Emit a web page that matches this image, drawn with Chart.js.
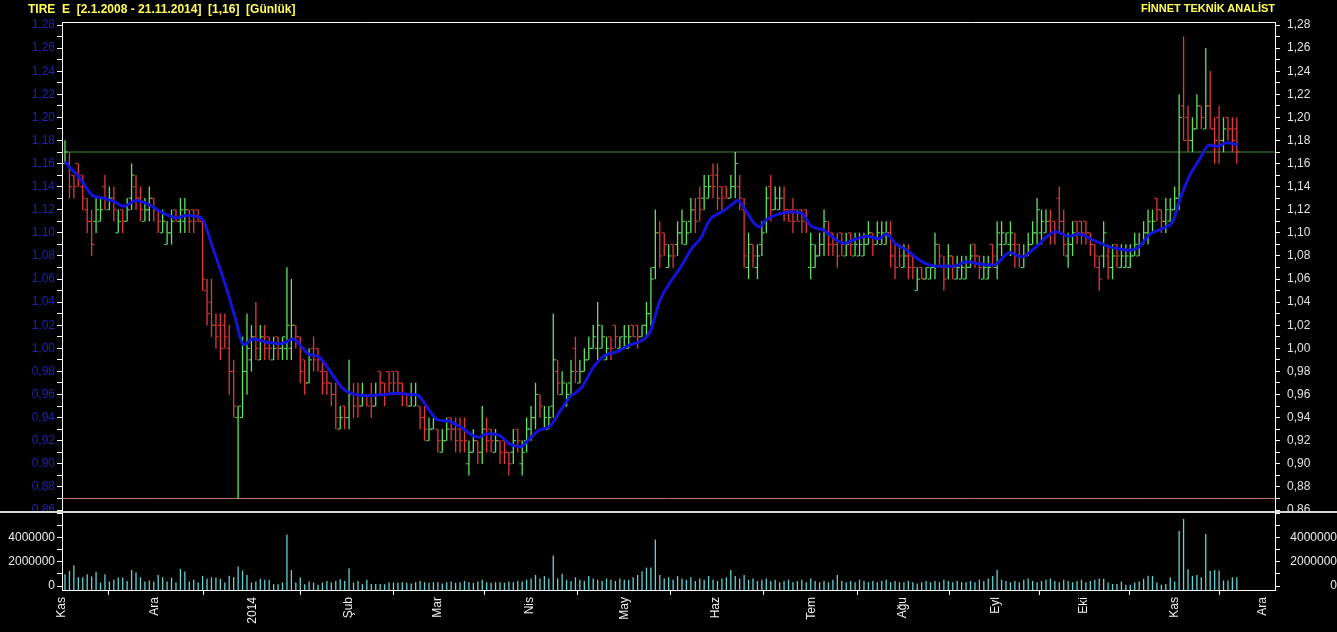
<!DOCTYPE html>
<html>
<head>
<meta charset="utf-8">
<script src="https://cdn.jsdelivr.net/npm/chart.js"></script>
<style>
  html, body { margin: 0; padding: 0; background: #000; overflow: hidden; }
  #wrap { position: relative; width: 1337px; height: 632px; background: #000; }
  .title { position: absolute; top: 2px; font-family: "Liberation Sans", Arial, sans-serif; font-weight: bold; color: #ffff55; white-space: pre; }
  .box { position: absolute; left: 0; width: 1337px; overflow: hidden; }
  #priceBox { top: 0; height: 512px; }
  #volBox { top: 513px; height: 119px; }
  #priceChart { position: absolute; left: 0; top: 0; }
  #volChart { position: absolute; left: 0; top: -20px; }
  #sep { position: absolute; left: 0; top: 511px; width: 1337px; height: 2px; background: #d8d8d8; }
</style>
</head>
<body>
<div id="wrap">
  <div class="box" id="priceBox"><canvas id="priceChart" width="1337" height="540"></canvas></div>
  <div class="box" id="volBox"><canvas id="volChart" width="1337" height="139"></canvas></div>
  <div id="sep"></div>
  <div class="title" style="left:28px; font-size:12px;">TIRE  E  [2.1.2008 - 21.11.2014]  [1,16]  [Günlük]</div>
  <div class="title" style="right:62px; font-size:11px;">FİNNET TEKNİK ANALİST</div>
</div>
<script>
// daily bars, Kas 2013 - 21 Kas 2014 (index = trading day)
const opens = [1.16,1.16,1.15,1.16,1.14,1.12,1.11,1.11,1.11,1.14,1.12,1.13,1.10,1.12,1.11,1.13,1.14,1.13,1.11,1.12,
  1.13,1.12,1.10,1.09,1.10,1.12,1.11,1.11,1.12,1.12,1.12,1.11,1.05,1.04,1.02,1.02,1.02,1.00,0.98,0.94,
  0.94,0.98,0.99,1.01,0.99,1.01,1.01,0.99,1.01,1.00,1.00,1.00,1.02,1.01,0.99,0.97,1.00,1.00,0.98,0.98,
  0.97,0.96,0.93,0.95,0.94,0.96,0.96,0.95,0.96,0.96,0.95,0.98,0.97,0.98,0.98,0.98,0.97,0.96,0.95,0.95,
  0.95,0.94,0.92,0.93,0.93,0.91,0.92,0.94,0.93,0.93,0.93,0.90,0.91,0.92,0.91,0.93,0.93,0.91,0.92,0.92,
  0.91,0.91,0.93,0.90,0.92,0.93,0.94,0.96,0.93,0.93,0.95,0.98,0.96,0.95,0.97,1.00,0.97,0.98,0.99,1.00,
  1.00,1.00,0.99,1.01,1.02,1.00,1.00,1.00,1.02,1.02,1.01,1.02,1.03,1.07,1.10,1.10,1.07,1.09,1.09,1.10,
  1.09,1.11,1.12,1.13,1.13,1.13,1.15,1.15,1.14,1.14,1.13,1.14,1.14,1.12,1.07,1.09,1.07,1.09,1.11,1.14,
  1.12,1.12,1.13,1.12,1.12,1.12,1.12,1.12,1.07,1.07,1.08,1.09,1.10,1.10,1.09,1.10,1.08,1.10,1.08,1.08,
  1.08,1.09,1.10,1.09,1.09,1.09,1.10,1.08,1.09,1.07,1.08,1.08,1.05,1.07,1.06,1.06,1.07,1.09,1.07,1.07,
  1.08,1.06,1.06,1.06,1.07,1.09,1.08,1.06,1.06,1.09,1.07,1.09,1.09,1.09,1.09,1.09,1.07,1.08,1.09,1.10,
  1.10,1.10,1.11,1.11,1.13,1.11,1.08,1.09,1.11,1.11,1.11,1.10,1.09,1.07,1.08,1.08,1.07,1.09,1.07,1.07,
  1.07,1.08,1.08,1.09,1.10,1.10,1.13,1.12,1.11,1.11,1.12,1.13,1.21,1.20,1.18,1.19,1.21,1.19,1.21,1.19,
  1.20,1.18,1.20,1.19,1.19];
const highs = [1.18,1.17,1.15,1.16,1.15,1.13,1.12,1.13,1.13,1.15,1.14,1.14,1.12,1.12,1.13,1.16,1.15,1.14,1.13,1.14,
  1.13,1.12,1.12,1.11,1.12,1.12,1.13,1.13,1.12,1.12,1.12,1.11,1.06,1.06,1.03,1.03,1.03,1.02,0.99,0.95,
  1.01,1.03,1.02,1.04,1.02,1.02,1.01,1.01,1.01,1.01,1.07,1.06,1.02,1.01,0.99,1.00,1.01,1.00,0.99,0.98,
  0.97,0.97,0.95,0.95,0.99,0.97,0.97,0.97,0.96,0.97,0.97,0.98,0.97,0.98,0.98,0.98,0.97,0.96,0.97,0.97,
  0.95,0.95,0.94,0.94,0.93,0.93,0.94,0.94,0.94,0.94,0.94,0.92,0.93,0.92,0.95,0.94,0.93,0.93,0.92,0.92,
  0.91,0.93,0.93,0.92,0.94,0.95,0.97,0.96,0.95,0.95,1.03,0.99,0.98,0.97,0.99,1.01,0.99,1.00,1.01,1.02,
  1.04,1.02,1.01,1.01,1.02,1.01,1.02,1.02,1.02,1.02,1.02,1.04,1.07,1.12,1.11,1.10,1.09,1.09,1.11,1.12,
  1.11,1.13,1.13,1.14,1.15,1.15,1.16,1.16,1.14,1.14,1.15,1.17,1.15,1.13,1.10,1.09,1.09,1.11,1.14,1.15,
  1.14,1.14,1.14,1.12,1.13,1.12,1.12,1.12,1.10,1.09,1.10,1.12,1.11,1.10,1.10,1.10,1.10,1.10,1.10,1.10,
  1.10,1.11,1.10,1.11,1.11,1.11,1.11,1.09,1.09,1.09,1.09,1.08,1.07,1.07,1.07,1.07,1.10,1.09,1.08,1.09,
  1.08,1.08,1.08,1.08,1.09,1.09,1.08,1.08,1.08,1.09,1.11,1.11,1.10,1.11,1.10,1.09,1.09,1.10,1.11,1.13,
  1.12,1.12,1.12,1.11,1.14,1.12,1.10,1.11,1.11,1.11,1.11,1.10,1.09,1.08,1.11,1.09,1.09,1.09,1.09,1.09,
  1.09,1.10,1.10,1.11,1.12,1.12,1.13,1.12,1.13,1.13,1.14,1.22,1.27,1.21,1.20,1.22,1.21,1.26,1.24,1.20,
  1.21,1.20,1.20,1.20,1.20];
const lows = [1.16,1.13,1.13,1.14,1.12,1.10,1.08,1.10,1.11,1.12,1.12,1.11,1.10,1.10,1.11,1.12,1.12,1.11,1.11,1.11,
  1.11,1.10,1.10,1.09,1.09,1.11,1.10,1.10,1.10,1.10,1.11,1.05,1.02,1.01,1.00,0.99,1.00,0.96,0.94,0.87,
  0.94,0.96,0.98,0.99,0.99,0.99,0.99,0.99,0.99,0.99,0.99,0.99,1.00,0.97,0.96,0.97,0.98,0.98,0.96,0.96,
  0.95,0.93,0.93,0.93,0.93,0.94,0.94,0.95,0.95,0.94,0.95,0.96,0.95,0.96,0.96,0.96,0.95,0.95,0.95,0.95,
  0.93,0.92,0.92,0.93,0.91,0.91,0.92,0.92,0.91,0.91,0.91,0.89,0.91,0.90,0.90,0.91,0.91,0.91,0.90,0.90,
  0.89,0.90,0.91,0.89,0.91,0.92,0.93,0.94,0.93,0.93,0.94,0.96,0.96,0.95,0.96,0.97,0.97,0.98,0.99,1.00,
  0.99,1.00,0.99,0.99,1.00,1.00,1.00,1.00,1.01,1.00,1.01,1.01,1.02,1.06,1.07,1.08,1.07,1.07,1.08,1.09,
  1.09,1.10,1.10,1.11,1.12,1.13,1.13,1.12,1.12,1.13,1.13,1.13,1.12,1.07,1.06,1.07,1.06,1.08,1.10,1.11,
  1.12,1.12,1.11,1.11,1.10,1.11,1.10,1.10,1.06,1.07,1.08,1.08,1.08,1.08,1.07,1.08,1.08,1.08,1.08,1.08,
  1.08,1.09,1.08,1.09,1.09,1.09,1.07,1.06,1.07,1.07,1.06,1.06,1.05,1.06,1.06,1.06,1.06,1.07,1.05,1.06,
  1.06,1.06,1.06,1.06,1.07,1.07,1.06,1.06,1.06,1.07,1.06,1.08,1.09,1.08,1.07,1.07,1.07,1.08,1.09,1.09,
  1.09,1.10,1.09,1.09,1.10,1.08,1.07,1.08,1.09,1.09,1.09,1.08,1.07,1.05,1.07,1.06,1.06,1.07,1.07,1.07,
  1.07,1.08,1.08,1.09,1.09,1.10,1.11,1.10,1.10,1.11,1.12,1.12,1.18,1.17,1.17,1.19,1.19,1.19,1.19,1.16,
  1.16,1.17,1.18,1.17,1.16];
const closes = [1.17,1.14,1.14,1.15,1.13,1.11,1.09,1.12,1.12,1.13,1.13,1.12,1.11,1.11,1.12,1.15,1.13,1.12,1.12,1.13,
  1.12,1.11,1.11,1.10,1.11,1.11,1.12,1.12,1.11,1.11,1.11,1.06,1.03,1.02,1.01,1.00,1.01,0.98,0.95,0.95,
  0.98,1.00,1.01,1.00,1.01,1.00,1.00,1.00,1.00,1.01,1.02,1.02,1.01,0.98,0.97,0.99,0.99,0.99,0.97,0.97,
  0.96,0.94,0.94,0.94,0.96,0.95,0.95,0.96,0.95,0.95,0.96,0.97,0.96,0.97,0.97,0.97,0.96,0.95,0.96,0.96,
  0.94,0.93,0.93,0.94,0.92,0.92,0.93,0.93,0.92,0.92,0.92,0.91,0.92,0.91,0.93,0.92,0.92,0.92,0.91,0.91,
  0.90,0.92,0.92,0.91,0.93,0.94,0.96,0.95,0.94,0.94,0.99,0.97,0.97,0.96,0.98,0.98,0.98,0.99,1.00,1.01,
  1.02,1.01,1.00,1.00,1.01,1.01,1.01,1.01,1.01,1.01,1.02,1.03,1.06,1.10,1.08,1.09,1.08,1.08,1.10,1.11,
  1.10,1.12,1.11,1.12,1.14,1.14,1.14,1.13,1.13,1.13,1.14,1.16,1.13,1.08,1.09,1.08,1.08,1.10,1.13,1.12,
  1.13,1.13,1.12,1.11,1.11,1.11,1.11,1.11,1.09,1.08,1.09,1.11,1.09,1.09,1.08,1.09,1.09,1.09,1.09,1.09,
  1.09,1.10,1.09,1.10,1.10,1.10,1.08,1.07,1.08,1.08,1.07,1.07,1.06,1.06,1.07,1.07,1.09,1.08,1.06,1.08,
  1.07,1.07,1.07,1.07,1.08,1.08,1.07,1.07,1.07,1.08,1.10,1.10,1.10,1.10,1.08,1.08,1.08,1.09,1.10,1.12,
  1.11,1.11,1.10,1.10,1.11,1.09,1.09,1.10,1.10,1.10,1.10,1.09,1.08,1.06,1.10,1.07,1.08,1.08,1.08,1.08,
  1.08,1.09,1.09,1.10,1.11,1.11,1.12,1.11,1.12,1.12,1.13,1.20,1.18,1.18,1.19,1.21,1.20,1.21,1.19,1.18,
  1.18,1.19,1.19,1.18,1.17];
// volume in millions of lots
const volumeMn = [0.96,1.23,1.7,0.7,0.7,0.96,0.77,1.15,0.27,0.96,0.36,0.5,0.68,0.68,0.4,1.3,1.1,0.7,0.36,0.44,
  0.36,0.9,0.7,0.36,0.68,0.27,1.4,1.18,0.36,0.5,0.27,0.82,0.58,0.7,0.68,0.58,0.27,0.82,0.7,1.6,
  1.26,0.9,0.27,0.36,0.58,0.5,0.5,0.14,0.14,0.27,4.2,1.3,0.27,0.68,0.14,0.36,0.27,0.1,0.27,0.4,
  0.27,0.4,0.55,0.4,1.45,0.27,0.4,0.14,0.5,0.16,0.16,0.16,0.14,0.27,0.27,0.27,
  0.3,0.25,0.2,0.3,0.4,0.3,0.25,0.3,0.3,0.2,0.3,0.35,0.25,0.3,0.4,0.3,0.25,0.35,0.5,0.3,
  0.25,0.3,0.3,0.25,0.35,0.3,0.4,0.35,0.5,0.6,0.9,0.6,0.8,0.6,
  2.5,
  0.6,1.0,0.5,0.4,0.7,0.5,0.4,0.8,0.6,0.5,0.4,0.6,0.5,0.4,0.6,0.5,0.5,0.7,0.9,1.2,1.5,1.5,3.8,
  0.9,0.6,0.7,0.5,0.8,0.6,0.5,0.7,0.4,0.6,0.5,0.8,0.5,0.4,0.6,0.7,
  1.3,
  0.8,0.6,0.9,0.5,0.6,0.4,0.5,0.6,0.4,0.5,0.3,0.4,0.5,0.3,0.4,0.5,0.3,0.6,0.4,0.3,
  0.4,0.3,0.5,0.9,0.4,0.3,0.4,0.3,0.5,0.4,0.3,0.4,0.3,0.4,0.5,0.3,0.4,0.3,0.3,0.4,
  0.3,0.2,0.3,0.4,0.3,0.4,0.3,0.5,0.4,0.3,0.4,0.3,0.3,0.4,0.3,0.5,0.4,0.6,0.8,
  1.3,
  0.5,0.4,0.3,0.4,0.3,0.5,0.6,0.4,0.3,0.4,0.5,0.6,0.4,0.3,0.5,0.4,0.3,0.4,0.5,0.3,0.4,0.5,0.6,
  0.58,0.27,0.16,0.16,0.36,0.1,0.1,0.27,0.36,0.58,0.82,0.82,0.27,0.1,0.16,0.68,0.36,
  4.5,5.5,1.37,0.82,0.9,0.71,4.27,1.23,1.3,1.26,0.44,0.44,0.71,0.71];

// moving average line (bar position, value)
const maX = [0,1,3,4.5,6,8.7,11.1,13.1,16.1,19.1,22.2,25.2,27.2,30.7,33.2,36.3,38.3,40.3,42.3,45.8,
  48.7,51.4,53.4,54.9,57.1,60.1,62.4,64.5,68.5,72.1,74.5,78.1,79.6,81.6,84.0,86.2,88.6,93.2,95.0,97.7,
  100.2,102.7,104.7,106.8,109.4,111.6,113.8,116.4,119.1,121.7,124.3,127.3,129.5,131.8,134.0,136.3,138.5,141.1,143.3,145.2,
  147.9,150.1,151.6,153.1,155.3,156.4,157.9,160.5,163.6,165.9,168.1,171.1,173.7,175.7,177.7,180.7,183.3,185.1,187.0,189.7,
  191.9,194.2,197.2,200.2,203.2,206.2,209.2,212.9,215.5,217.9,219.7,220.9,223.2,226.2,228.4,231.5,234.5,237.5,239.8,242.0,
  244.2,247.3,249.6,251.1,253.3,255.5,257.8,259.8,261.6,263.5,264.3];
const maY = [1.162,1.157,1.149,1.141,1.133,1.130,1.127,1.123,1.128,1.124,1.117,1.113,1.115,1.113,1.088,1.053,1.027,1.003,1.008,1.005,
  1.004,1.008,1.001,0.995,0.993,0.978,0.966,0.961,0.959,0.960,0.961,0.960,0.959,0.949,0.938,0.937,0.933,0.923,0.926,0.925,
  0.917,0.915,0.922,0.929,0.933,0.946,0.958,0.966,0.984,0.994,0.997,1.003,1.006,1.014,1.041,1.057,1.069,1.086,1.096,1.111,
  1.118,1.124,1.128,1.121,1.108,1.105,1.111,1.116,1.118,1.117,1.106,1.102,1.094,1.091,1.094,1.097,1.095,1.099,1.091,1.085,
  1.078,1.073,1.071,1.071,1.075,1.073,1.072,1.083,1.079,1.085,1.091,1.096,1.101,1.097,1.099,1.094,1.089,1.086,1.085,1.088,
  1.098,1.104,1.110,1.128,1.149,1.163,1.176,1.175,1.178,1.177,1.176];

const resistance = 1.17;
const support = 0.87;

const monthTicks = [-0.676, 20.3, 42.2, 63.8, 84.0, 104.8, 126.2, 146.5, 168.3, 188.8, 209.6, 229.6, 250.1, 269.9];
const monthLabels = ['Kas', 'Ara', '2014', 'Şub', 'Mar', 'Nis', 'May', 'Haz', 'Tem', 'Ağu', 'Eyl', 'Eki', 'Kas', 'Ara'];
const priceTicks = [0.86,0.87,0.88,0.89,0.90,0.91,0.92,0.93,0.94,0.95,0.96,0.97,0.98,0.99,1.00,1.01,1.02,1.03,1.04,1.05,
  1.06,1.07,1.08,1.09,1.10,1.11,1.12,1.13,1.14,1.15,1.16,1.17,1.18,1.19,1.20,1.21,1.22,1.23,1.24,1.25,1.26,1.27,1.28];
const volumeTicks = [0, 1000000, 2000000, 3000000, 4000000, 5000000, 6000000];
const volumeLabels = [0, 2000000, 4000000];

const FONT = '"Liberation Sans", Arial, sans-serif';
const GREEN = '#62e262';
const RED = '#e23a3a';
const X_MIN = -0.676, X_MAX = 272.6;
const P_MIN = 0.85827, P_MAX = 1.2826;
const V_MIN = -328700, V_MAX = 6000000;

Chart.defaults.font.family = FONT;

const barColors = closes.map((c, i) => c >= opens[i] ? GREEN : RED);

function priceAxis(position, color, padding) {
    return {
        position: position,
        min: P_MIN,
        max: P_MAX,
        afterBuildTicks: s => { s.ticks = priceTicks.map(v => ({ value: v })); },
        afterFit: s => { s.width = 62; },
        ticks: {
            color: color,
            padding: padding,
            autoSkip: false,
            font: { size: 12 },
            callback: v => Math.round(v * 100) % 2 === 0 ? v.toFixed(2).replace('.', ',') : ''
        },
        grid: { drawOnChartArea: false, color: '#ffffff', tickLength: 5 },
        border: { color: '#ffffff' }
    };
}

function volumeAxis(position, padding, crossAlign) {
    return {
        position: position,
        min: V_MIN,
        max: V_MAX,
        afterBuildTicks: s => { s.ticks = volumeTicks.map(v => ({ value: v })); },
        afterFit: s => { s.width = 62; },
        ticks: {
            color: '#ececec',
            padding: padding,
            crossAlign: crossAlign,
            autoSkip: false,
            font: { size: 12 },
            callback: v => volumeLabels.includes(v) ? String(v) : ''
        },
        grid: { drawOnChartArea: false, color: '#ffffff', tickLength: 5 },
        border: { color: '#ffffff' }
    };
}

const priceChart = new Chart(document.getElementById('priceChart'), {
    type: 'bar',
    data: {
        datasets: [
            {
                type: 'line',
                label: 'Ortalama',
                data: maX.map((x, i) => ({ x: x, y: maY[i] })),
                borderColor: '#1414d8',
                borderWidth: 3,
                pointRadius: 0,
                cubicInterpolationMode: 'monotone',
                order: 0
            },
            {
                type: 'scatter',
                label: 'Açılış',
                data: opens.map((o, i) => ({ x: i - 0.38, y: o })),
                pointStyle: 'line',
                pointRadius: 1.2,
                pointBorderWidth: 1,
                pointBorderColor: barColors,
                order: 1
            },
            {
                type: 'scatter',
                label: 'Kapanış',
                data: closes.map((c, i) => ({ x: i + 0.38, y: c })),
                pointStyle: 'line',
                pointRadius: 1.2,
                pointBorderWidth: 1,
                pointBorderColor: barColors,
                order: 1
            },
            {
                type: 'bar',
                label: 'Yüksek-Düşük',
                data: highs.map((h, i) => ({ x: i, y: [lows[i], h] })),
                backgroundColor: barColors,
                barThickness: 1,
                inflateAmount: 0.15,
                order: 2
            },
            {
                type: 'line',
                label: 'Direnç',
                data: [{ x: X_MIN, y: resistance }, { x: X_MAX, y: resistance }],
                borderColor: '#3e8e3e',
                borderWidth: 1,
                pointRadius: 0,
                order: 3
            },
            {
                type: 'line',
                label: 'Destek',
                data: [{ x: X_MIN, y: support }, { x: X_MAX, y: support }],
                borderColor: '#c87a6e',
                borderWidth: 1,
                pointRadius: 0,
                order: 3
            }
        ]
    },
    options: {
        responsive: false,
        animation: false,
        devicePixelRatio: 1,
        events: [],
        // the canvas is 28px taller than its clipping box, so the plot ends at y=512
        layout: { padding: { top: 22, left: 0, right: 0, bottom: 28 } },
        plugins: { legend: { display: false }, tooltip: { enabled: false } },
        scales: {
            x: { type: 'linear', min: X_MIN, max: X_MAX, offset: false, display: false },
            xTop: {
                type: 'linear', position: 'top', min: X_MIN, max: X_MAX, offset: false,
                ticks: { display: false },
                grid: { drawOnChartArea: false, drawTicks: false },
                border: { color: '#ffffff' },
                afterFit: s => { s.height = 0; }
            },
            y: priceAxis('left', '#2222b4', 2),
            yRight: priceAxis('right', '#e2e2e2', 7)
        }
    }
});

const volChart = new Chart(document.getElementById('volChart'), {
    type: 'bar',
    data: {
        datasets: [{
            label: 'Hacim',
            data: volumeMn.map((v, i) => ({ x: i, y: v * 1000000 })),
            backgroundColor: '#62d2d2',
            barThickness: 1,
            inflateAmount: 0.15,
            base: V_MIN
        }]
    },
    options: {
        responsive: false,
        animation: false,
        devicePixelRatio: 1,
        events: [],
        // canvas sits 20px above its clipping box, so the plot starts at y=513
        layout: { padding: { top: 20, left: 0, right: 0, bottom: 0 } },
        plugins: { legend: { display: false }, tooltip: { enabled: false } },
        scales: {
            x: {
                type: 'linear', min: X_MIN, max: X_MAX, offset: false,
                afterBuildTicks: s => { s.ticks = monthTicks.map(v => ({ value: v })); },
                afterFit: s => { s.height = 42; },
                ticks: {
                    color: '#f0f0f0',
                    autoSkip: false,
                    maxRotation: 90,
                    minRotation: 90,
                    padding: 2,
                    font: { size: 12 },
                    callback: (v, i) => monthLabels[i]
                },
                grid: { drawOnChartArea: false, color: '#ffffff', tickLength: 5 },
                border: { color: '#ffffff' }
            },
            y: volumeAxis('left', 2, 'near'),
            yRight: volumeAxis('right', 2, 'far')
        }
    }
});
</script>
</body>
</html>
